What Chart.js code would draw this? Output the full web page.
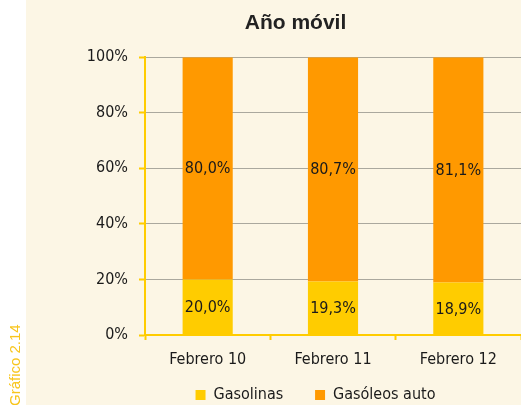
<!DOCTYPE html>
<html>
<head>
<meta charset="utf-8">
<script src="https://cdn.jsdelivr.net/npm/chart.js@4/dist/chart.umd.min.js"></script>
<style>
  html, body { margin: 0; padding: 0; background: #fff; }
  #wrap { position: relative; width: 521px; height: 405px; }
  #side {
    position: absolute; left: 6px; top: 406px; line-height: 17px;
    transform-origin: 0 0; transform: rotate(-90deg);
    font: 15px "Liberation Sans", Arial, sans-serif; color: #F8C51C; white-space: nowrap;
  }
</style>
</head>
<body>
<div id="wrap">
  <canvas id="grafico" width="521" height="405"></canvas>
  <div id="side">Gráfico 2.14</div>
</div>
<script>
// datos
const categorias = ["Febrero 10", "Febrero 11", "Febrero 12"];
const gasolinas = [20.0, 19.3, 18.9];
const gasoleos = [80.0, 80.7, 81.1];
const marcasY = [0, 20, 40, 60, 80, 100];

// letra estrecha para ejes, leyenda y etiquetas
const familia = "'DejaVu Sans Condensed', 'Liberation Sans Narrow', sans-serif";
const estrecha = { family: familia, size: 16 };
const amarillo = "#FFCC00";
const naranja = "#FF9900";
const texto = "#1a1a1a";

// fondo crema a partir de x=26
const fondo = {
  id: "fondo",
  beforeDraw(chart) {
    const c = chart.ctx;
    c.save();
    c.fillStyle = "#FCF6E5";
    c.fillRect(26, 0, chart.width - 26, chart.height);
    c.restore();
  }
};

// recolocar titulo y leyenda
const posiciones = {
  id: "posiciones",
  afterLayout(chart) {
    chart.titleBlock.left = 70;
    chart.titleBlock.right = 521;
    const l = chart.legend;
    l.left = 110;
    l.right = 521;
    l.top += 8;
    l.bottom += 8;
  }
};

// etiquetas de valores dentro de las barras
const etiquetas = {
  id: "etiquetas",
  afterDatasetsDraw(chart) {
    const c = chart.ctx;
    c.save();
    c.font = "16px " + familia;
    c.fillStyle = texto;
    c.textAlign = "center";
    c.textBaseline = "middle";
    chart.data.datasets.forEach((ds, i) => {
      chart.getDatasetMeta(i).data.forEach((bar, j) => {
        const txt = ds.data[j].toFixed(1).replace(".", ",") + "%";
        c.fillText(txt, bar.x, (bar.y + bar.base) / 2 + 1);
      });
    });
    c.restore();
  }
};

const ctx = document.getElementById("grafico").getContext("2d");
new Chart(ctx, {
  type: "bar",
  data: {
    labels: categorias,
    datasets: [
      { label: "Gasolinas", data: gasolinas, backgroundColor: amarillo },
      { label: "Gasóleos auto", data: gasoleos, backgroundColor: naranja }
    ]
  },
  options: {
    responsive: false,
    animation: false,
    layout: { padding: { left: 0, right: 0, top: 0, bottom: 0 } },
    datasets: { bar: { categoryPercentage: 0.4, barPercentage: 1 } },
    plugins: {
      title: {
        display: true,
        text: "Año móvil",
        color: "#222",
        font: { family: "'Liberation Sans', Arial, sans-serif", size: 21, weight: "bold" },
        padding: { top: 11, bottom: 21 }
      },
      legend: {
        position: "bottom",
        labels: {
          color: texto,
          font: estrecha,
          boxWidth: 10,
          boxHeight: 10,
          padding: 3,
          generateLabels(chart) {
            const items = Chart.defaults.plugins.legend.labels.generateLabels(chart);
            items[0].text += "\u2003\u2003";
            return items;
          }
        }
      },
      tooltip: { enabled: false }
    },
    scales: {
      x: {
        stacked: true,
        afterFit(scale) { scale.height = 41; },
        grid: {
          display: true,
          drawOnChartArea: false,
          offset: true,
          tickLength: 5,
          tickWidth: 2,
          color: amarillo
        },
        border: { color: amarillo, width: 2 },
        ticks: { color: texto, font: estrecha, padding: 10 }
      },
      y: {
        stacked: true,
        min: 0,
        max: 100,
        afterFit(scale) { scale.width = 145; },
        afterBuildTicks(scale) { scale.ticks = marcasY.map(v => ({ value: v })); },
        grid: {
          color: "#AAA89E",
          tickColor: amarillo,
          tickLength: 6,
          tickWidth: 2
        },
        border: { color: amarillo, width: 2 },
        ticks: {
          color: texto,
          font: estrecha,
          padding: 11,
          callback: v => v + "%"
        }
      }
    }
  },
  plugins: [fondo, posiciones, etiquetas]
});
</script>
</body>
</html>
